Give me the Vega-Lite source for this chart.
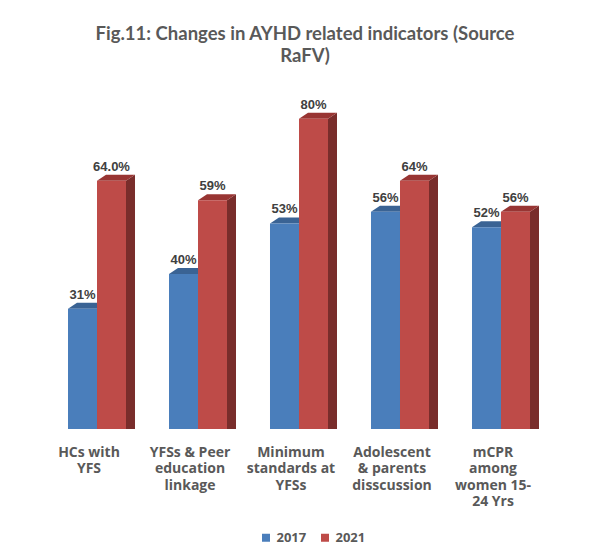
{
  "$schema": "https://vega.github.io/schema/vega-lite/v6.json",
  "autosize": {"type": "none"},
  "width": 505,
  "height": 349,
  "padding": {"left": 46.5, "top": 80, "right": 44.5, "bottom": 126},
  "background": "white",
  "config": {"view": {"stroke": null}},
  "title": {
    "text": ["Fig.11: Changes in AYHD related indicators (Source", "RaFV)"],
    "font": "Lato",
    "fontSize": 18.5,
    "fontWeight": "bold",
    "color": "#595959",
    "lineHeight": 22,
    "offset": 15,
    "dx": 6
  },
  "data": {
    "values": [
      {"indicator": "HCs with YFS", "year": "2017", "value": 31, "label": "31%"},
      {"indicator": "HCs with YFS", "year": "2021", "value": 64, "label": "64.0%"},
      {"indicator": "YFSs & Peer education linkage", "year": "2017", "value": 40, "label": "40%"},
      {"indicator": "YFSs & Peer education linkage", "year": "2021", "value": 59, "label": "59%"},
      {"indicator": "Minimum standards at YFSs", "year": "2017", "value": 53, "label": "53%"},
      {"indicator": "Minimum standards at YFSs", "year": "2021", "value": 80, "label": "80%"},
      {"indicator": "Adolescent & parents disscussion", "year": "2017", "value": 56, "label": "56%"},
      {"indicator": "Adolescent & parents disscussion", "year": "2021", "value": 64, "label": "64%"},
      {"indicator": "mCPR among women 15-24 Yrs", "year": "2017", "value": 52, "label": "52%"},
      {"indicator": "mCPR among women 15-24 Yrs", "year": "2021", "value": 56, "label": "56%"}
    ]
  },
  "encoding": {
    "x": {
      "field": "indicator",
      "type": "nominal",
      "sort": null,
      "scale": {"paddingInner": 0.4257, "paddingOuter": 0.2129},
      "axis": {
        "title": null,
        "domain": false,
        "ticks": false,
        "grid": false,
        "labelAngle": 0,
        "labelFont": "Open Sans",
        "labelFontSize": 14,
        "labelFontWeight": "bold",
        "labelColor": "#595959",
        "labelLineHeight": 16.5,
        "labelPadding": 16,
        "labelOffset": -8,
        "labelLimit": 0,
        "labelExpr": "datum.value == 'HCs with YFS' ? ['HCs with', 'YFS'] : datum.value == 'YFSs & Peer education linkage' ? ['YFSs & Peer', 'education', 'linkage'] : datum.value == 'Minimum standards at YFSs' ? ['Minimum', 'standards at', 'YFSs'] : datum.value == 'Adolescent & parents disscussion' ? ['Adolescent', '& parents', 'disscussion'] : ['mCPR', 'among', 'women 15-', '24 Yrs']"
      }
    },
    "xOffset": {"field": "year", "type": "nominal", "sort": ["2017", "2021"]},
    "y": {
      "field": "value",
      "type": "quantitative",
      "scale": {"domain": [0, 90], "nice": false, "zero": true},
      "axis": null
    }
  },
  "layer": [
    {
      "mark": {
        "type": "point",
        "shape": "M14.5,0L23.5,-6L23.5,420L14.5,420Z",
        "size": 4,
        "filled": true,
        "opacity": 1,
        "strokeWidth": 0,
        "clip": true
      },
      "encoding": {
        "fill": {"condition": {"test": "datum.year == '2017'", "value": "#2f527c"}, "value": "#792d2b"}
      }
    },
    {
      "mark": {
        "type": "point",
        "shape": "M-14.5,0L-5.5,-6L23.5,-6L14.5,0Z",
        "size": 4,
        "filled": true,
        "opacity": 1,
        "strokeWidth": 0
      },
      "encoding": {
        "fill": {"condition": {"test": "datum.year == '2017'", "value": "#3a6394"}, "value": "#983533"}
      }
    },
    {
      "mark": {"type": "bar"},
      "encoding": {
        "color": {
          "field": "year",
          "type": "nominal",
          "scale": {"domain": ["2017", "2021"], "range": ["#4a7ebb", "#be4b48"]},
          "legend": {
            "title": null,
            "orient": "none",
            "direction": "horizontal",
            "legendX": 213,
            "legendY": 451,
            "symbolType": "square",
            "symbolSize": 64,
            "symbolStrokeWidth": 0,
            "labelFont": "Open Sans",
            "labelFontSize": 13,
            "labelFontWeight": "bold",
            "labelColor": "#595959",
            "columnPadding": 12,
            "labelOffset": 4
          }
        }
      }
    },
    {
      "mark": {
        "type": "text",
        "dy": -10,
        "baseline": "alphabetic",
        "font": "Liberation Sans",
        "fontSize": 13,
        "fontWeight": "bold",
        "color": "#404040"
      },
      "encoding": {"text": {"field": "label"}}
    }
  ]
}
